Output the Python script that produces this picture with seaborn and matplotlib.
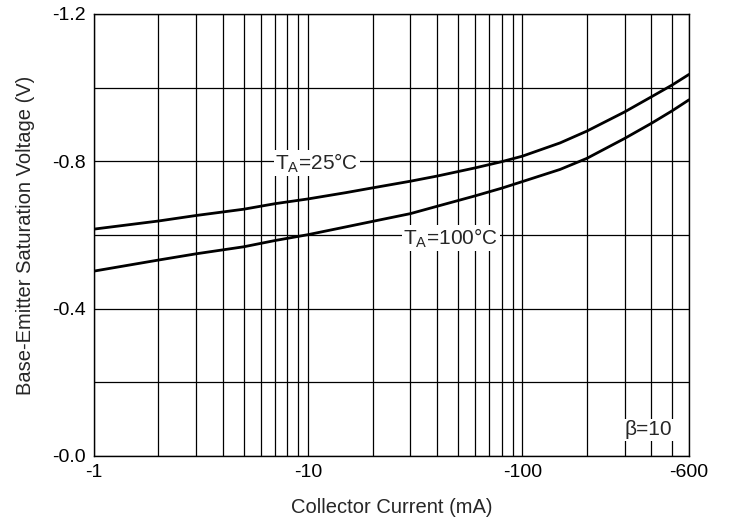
import matplotlib
matplotlib.use("Agg")
import matplotlib.pyplot as plt
import seaborn as sns
import pandas as pd
from matplotlib.ticker import FixedLocator, FuncFormatter, LogLocator, NullFormatter

# collector current (mA, magnitude) and V_BE(sat) (V, magnitude)
current = [1, 2, 3, 5, 7, 10, 15, 20, 30, 40, 60, 80, 100, 150, 200, 300, 400, 500, 600]
vbe_25 = [0.616, 0.638, 0.653, 0.670, 0.685, 0.698, 0.715, 0.728, 0.746, 0.760,
          0.782, 0.799, 0.814, 0.850, 0.882, 0.934, 0.975, 1.007, 1.036]
vbe_100 = [0.502, 0.532, 0.549, 0.568, 0.585, 0.601, 0.622, 0.637, 0.658, 0.678,
           0.706, 0.727, 0.745, 0.778, 0.808, 0.862, 0.903, 0.937, 0.967]

x_ticks = [1, 10, 100, 600]
y_ticks = [0.0, 0.4, 0.8, 1.2]

df = pd.DataFrame({
    "current": current * 2,
    "vbe": vbe_25 + vbe_100,
    "temp": ["25"] * len(current) + ["100"] * len(current),
})

sns.set_style("white")
plt.rcParams["font.family"] = ["Liberation Sans", "DejaVu Sans"]
plt.rcParams["mathtext.default"] = "regular"

fig = plt.figure(figsize=(7.29, 5.22), dpi=100)
ax = fig.add_axes([94 / 729, 66 / 522, 595 / 729, 442 / 522])

sns.lineplot(data=df, x="current", y="vbe", units="temp", estimator=None,
             color="black", linewidth=2.0, ax=ax, legend=False, zorder=3)

ax.set_xscale("log")
ax.set_xlim(1, 600)
ax.set_ylim(0, 1.2)

ax.xaxis.set_major_locator(FixedLocator(x_ticks))
ax.xaxis.set_major_formatter(FuncFormatter(lambda v, p: f"-{v:g}"))
ax.xaxis.set_minor_locator(LogLocator(base=10, subs=range(1, 10), numticks=20))
ax.xaxis.set_minor_formatter(NullFormatter())
ax.yaxis.set_major_locator(FixedLocator(y_ticks))
ax.yaxis.set_major_formatter(FuncFormatter(lambda v, p: f"-{v:.1f}"))
ax.yaxis.set_minor_locator(FixedLocator([0.2, 0.6, 1.0]))

ax.grid(True, which="both", color="black", linewidth=0.9)
ax.tick_params(which="both", length=0, labelsize=14, pad=6, colors="black")
for s in ax.spines.values():
    s.set_color("black")
    s.set_linewidth(1.0)

ax.set_xlabel("Collector Current (mA)", fontsize=14.5, labelpad=12)
ax.set_ylabel("Base-Emitter Saturation Voltage (V)", fontsize=14.5, labelpad=12)

box = dict(facecolor="white", edgecolor="none", pad=1)
ax.text(7.0, 0.795, "$T_A$=25°C", fontsize=15, va="center", ha="left",
        bbox=box, zorder=4)
ax.text(27.8, 0.592, "$T_A$=100°C", fontsize=15, va="center", ha="left",
        bbox=box, zorder=4)
ax.text(300, 0.071, "β=10", fontsize=15, va="center", ha="left",
        bbox=box, zorder=4)

fig.savefig("out.png", dpi=100)
